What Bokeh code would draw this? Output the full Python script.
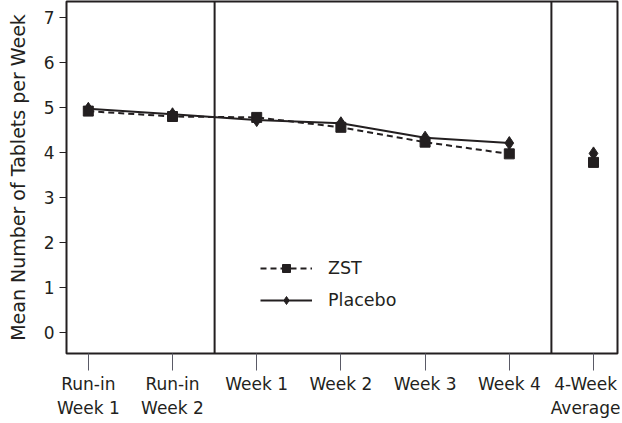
from bokeh.plotting import figure
from bokeh.models import Range1d, Span, Legend, LegendItem, FixedTicker
from bokeh.embed import file_html
from bokeh.resources import INLINE

# ---- data ----
categories = ["Run-in\nWeek 1", "Run-in\nWeek 2", "Week 1", "Week 2",
              "Week 3", "Week 4", "4-Week\nAverage"]
zst = [4.92, 4.80, 4.78, 4.56, 4.23, 3.97, 3.78]
placebo = [4.97, 4.85, 4.72, 4.65, 4.33, 4.21, 3.98]
y_ticks = [0, 1, 2, 3, 4, 5, 6, 7]
n_connected = 6          # weekly points joined by lines (4-week average stands alone)
period_breaks = [(1, 2), (5, 6)]  # dividers between these category pairs

INK = "#231f20"
FONT = "DejaVu Sans"

x = list(range(len(categories)))

p = figure(width=620, height=420, output_backend="svg", toolbar_location=None,
           x_range=Range1d(-0.259, 6.285), y_range=Range1d(-0.467, 7.356),
           min_border_left=66, min_border_right=3, min_border_top=1,
           min_border_bottom=67)

p.xgrid.visible = False
p.ygrid.visible = False
p.outline_line_color = INK
p.outline_line_width = 2
p.background_fill_color = "white"
p.border_fill_color = "white"

# dividers
for a, b in period_breaks:
    p.add_layout(Span(location=(x[a] + x[b]) / 2, dimension="height",
                      line_color=INK, line_width=2))

# ZST
l1 = p.line(x[:n_connected], zst[:n_connected], line_color=INK, line_width=2,
            line_dash="6 4")
m1 = p.scatter(x, zst, marker="square", size=10, fill_color=INK, line_color=INK)

# Placebo
l2 = p.line(x[:n_connected], placebo[:n_connected], line_color=INK, line_width=2)
m2 = p.scatter(x, placebo, marker="diamond", size=13, fill_color=INK,
               line_color=INK)

legend = Legend(items=[LegendItem(label="ZST", renderers=[l1, m1]),
                       LegendItem(label="Placebo", renderers=[l2, m2])],
                location=(194, 43), padding=0, margin=0,
                border_line_color=None, background_fill_alpha=0,
                glyph_width=52, glyph_height=20, label_height=20,
                spacing=12, label_standoff=16,
                label_text_font=FONT, label_text_font_size="17.5px",
                label_text_color=INK)
p.add_layout(legend)

# x axis
xa = p.xaxis[0]
xa.ticker = FixedTicker(ticks=x)
xa.major_label_overrides = {i: c for i, c in zip(x, categories)}
xa.axis_line_color = None
xa.major_tick_out = 17
xa.major_tick_in = 0
xa.major_tick_line_color = "#5a5a66"
xa.minor_tick_line_color = None
xa.major_label_standoff = 3
xa.major_label_text_font = FONT
xa.major_label_text_font_size = "17px"
xa.major_label_text_color = INK

# y axis
ya = p.yaxis[0]
ya.ticker = FixedTicker(ticks=y_ticks)
ya.axis_line_color = None
ya.major_tick_out = 7
ya.major_tick_in = 0
ya.major_tick_line_color = INK
ya.minor_tick_line_color = None
ya.major_label_standoff = 5
ya.major_label_text_font = FONT
ya.major_label_text_font_size = "17px"
ya.major_label_text_color = INK
ya.axis_label = "Mean Number of Tablets per Week"
ya.axis_label_text_font = FONT
ya.axis_label_text_font_size = "19px"
ya.axis_label_text_font_style = "normal"
ya.axis_label_text_color = INK
ya.axis_label_standoff = 12

open("out.html", "w").write(file_html(p, INLINE))
